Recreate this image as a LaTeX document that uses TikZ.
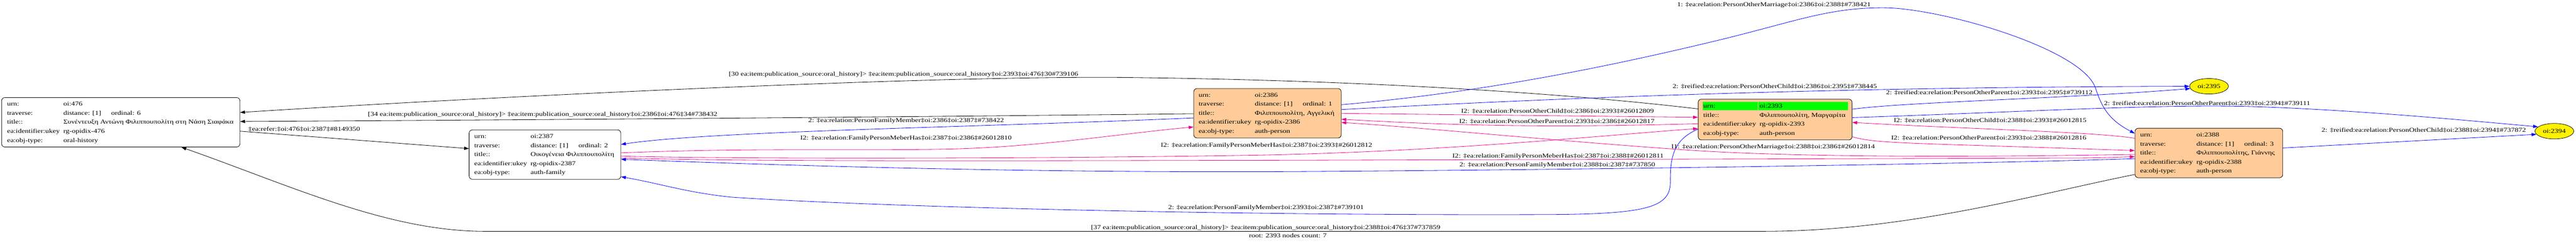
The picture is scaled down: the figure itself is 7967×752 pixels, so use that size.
\documentclass[tikz,border=0pt]{standalone}
\usepackage{fontspec}
\setmainfont{Liberation Serif}[FakeStretch=1.25]
\usetikzlibrary{arrows.meta,shapes.geometric,calc}
\definecolor{peachc}{RGB}{255,204,153}
\definecolor{greenc}{RGB}{0,255,0}
\newcommand{\rrow}[5]{\node[txt] (#1k) at (#2,#3+6) {#4};\node[txt] (#1v) at (#2+174,#3+6) {#5};}
\newcommand{\trow}[4]{\node[txt] (#1k) at (#2,#3+6) {traverse:};\node[txt] (#1v) at (#2+174,#3+6) {distance: [1]};\node[txt] (#1o) at (#2+322,#3+6) {ordinal: #4};}
\tikzset{
  rec/.style={draw=black, line width=1.3pt, rounded corners=10pt, inner sep=0pt},
  txt/.style={anchor=base west, inner sep=0pt, outer sep=0pt},
  lbl/.style={anchor=base west, inner sep=0pt, outer sep=0pt},
  edgeline/.style={line width=1.3pt, -{Triangle[length=15pt,width=10pt]}},
  bk/.style={edgeline, draw=black},
  bl/.style={edgeline, draw=blue},
  mg/.style={edgeline, draw=magenta},
  oval/.style={ellipse, draw=black, fill=yellow, line width=1.2pt, minimum width=120pt, minimum height=48pt, inner sep=0pt},
}
\begin{document}
\begin{tikzpicture}[x=1pt,y=-1pt,font=\fontsize{18.5}{22}\selectfont]
\path[use as bounding box, fill=white] (0,0) rectangle (7967,752);

% ---- record nodes ----
\node[rec, fill=white, minimum width=737pt, minimum height=153pt] (n476) at (373.5,378.5) {};
\rrow{a1}{22}{322}{urn:}{oi:476}
\trow{a2}{22}{350}{6}
\rrow{a3}{22}{378}{title::}{Συνέντευξη Αντώνη Φιλιππουπολίτη στη Νάση Σιαφάκα}
\rrow{a4}{22}{406}{ea:identifier:ukey}{rg-opidix-476}
\rrow{a5}{22}{434}{ea:obj-type:}{oral-history}

\node[rec, fill=white, minimum width=469pt, minimum height=153pt] (n2387) at (1685.5,478.5) {};
\rrow{b1}{1467}{422}{urn:}{oi:2387}
\trow{b2}{1467}{450}{2}
\rrow{b3}{1467}{478}{title::}{Οικογένεια Φιλιππουπολίτη}
\rrow{b4}{1467}{506}{ea:identifier:ukey}{rg-opidix-2387}
\rrow{b5}{1467}{534}{ea:obj-type:}{auth-family}

\node[rec, fill=peachc, minimum width=456pt, minimum height=153pt] (n2386) at (3920,350.5) {};
\rrow{c1}{3707}{294}{urn:}{oi:2386}
\trow{c2}{3707}{322}{1}
\rrow{c3}{3707}{350}{title::}{Φιλιππουπολίτη, Αγγελική}
\rrow{c4}{3707}{378}{ea:identifier:ukey}{rg-opidix-2386}
\rrow{c5}{3707}{406}{ea:obj-type:}{auth-person}

\node[rec, fill=peachc, minimum width=476pt, minimum height=126pt] (n2393) at (5490,370) {};
\fill[greenc] (5266,316) rectangle (5436,341);
\fill[greenc] (5438,316) rectangle (5716,341);
\rrow{d1}{5268}{328}{urn:}{oi:2393}
\rrow{d3}{5268}{356}{title::}{Φιλιππουπολίτη, Μαργαρίτα}
\rrow{d4}{5268}{384}{ea:identifier:ukey}{rg-opidix-2393}
\rrow{d5}{5268}{412}{ea:obj-type:}{auth-person}

\node[rec, fill=peachc, minimum width=457pt, minimum height=153pt] (n2388) at (6831.5,473.5) {};
\rrow{e1}{6619}{417}{urn:}{oi:2388}
\trow{e2}{6619}{445}{3}
\rrow{e3}{6619}{473}{title::}{Φιλιππουπολίτης, Γιάννης}
\rrow{e4}{6619}{501}{ea:identifier:ukey}{rg-opidix-2388}
\rrow{e5}{6619}{529}{ea:obj-type:}{auth-person}

\node[oval] (e2395) at (6832,267) {oi:2395};
\node[oval] (e2394) at (7900,406) {oi:2394};

% ---- black edges ----
\draw[bk] ($(n476.east)+(0,27.5)$) -- ($(n2387.west)+(0,-18.5)$);
\draw[bk] ($(n2393.west)+(0,-33)$) .. controls (4900,295) and (4300,250) .. (3500,240) .. controls (2900,232) and (1500,300) .. ($(n476.east)+(0,-30.5)$);
\draw[bk] ($(n2386.west)+(0,1.5)$) .. controls (2800,362) and (1800,370) .. ($(n476.east)+(0,-2.5)$);
\draw[bk] ($(n2388.west)+(0,66.5)$) .. controls (6300,600) and (5900,716) .. (5450,716) -- (1500,716) .. controls (1200,716) and (900,575) .. ($(n476.south)+(187.5,0)$);

% ---- blue edges ----
\draw[bl] ($(n2386.west)+(0,14.5)$) .. controls (3000,395) and (2200,405) .. ($(n2387.east)+(0,-31.5)$);
\draw[bl] ($(n2388.west)+(0,17.5)$) .. controls (6200,505) and (5000,525) .. (4000,531) .. controls (3200,535) and (2500,515) .. ($(n2387.east)+(0,14.5)$);
\draw[bl] ($(n2393.west)+(0,30)$) .. controls (5180,430) and (5165,480) .. (5166,560) .. controls (5168,640) and (5100,662) .. (4800,664) .. controls (3800,668) and (2700,640) .. (2260,610) .. controls (2120,595) and (2050,570) .. ($(n2387.east)+(0,68.5)$);
\draw[bl] ($(n2386.east)+(0,-26.5)$) .. controls (4600,285) and (5000,200) .. (5300,128) .. controls (5550,68) and (5650,24) .. (5824,24) .. controls (6000,24) and (6440,150) .. (6481,273) .. controls (6500,330) and (6520,370) .. ($(n2388.west)+(0,-60.5)$);
\draw[bl] ($(n2386.east)+(0,-11.5)$) .. controls (4800,305) and (5600,270) .. (e2395.west);
\draw[bl] ($(n2393.east)+(0,-32)$) .. controls (5900,315) and (6400,305) .. (e2395.187);
\draw[bl] ($(n2393.east)+(0,-6)$) .. controls (6300,345) and (6700,320) .. (7000,331) .. controls (7300,342) and (7600,370) .. (e2394.165);
\draw[bl] ($(n2388.east)+(0,-15.5)$) -- (e2394.190);

% ---- magenta edges ----
\draw[mg] ($(n2387.east)+(0,-5.5)$) .. controls (2300,458) and (2600,466) .. (2900,462) .. controls (3200,458) and (3450,415) .. ($(n2386.west)+(0,42.5)$);
\draw[mg] ($(n2387.east)+(0,4.5)$) .. controls (2200,492) and (3200,492) .. (3900,480) .. controls (4500,468) and (5000,415) .. ($(n2393.west)+(0,28)$);
\draw[mg] ($(n2387.east)+(0,10.5)$) .. controls (2300,500) and (3000,498) .. (4000,496) -- (6450,489) .. controls (6520,488) and (6560,486) .. ($(n2388.west)+(0,11.5)$);
\draw[mg] ($(n2388.west)+(0,4.5)$) .. controls (6000,488) and (5500,485) .. (5200,463) .. controls (4800,435) and (4400,395) .. ($(n2386.east)+(0,28.5)$);
\draw[mg] ($(n2386.east)+(0,0.5)$) -- ($(n2393.west)+(0,-7)$);
\draw[mg] ($(n2393.west)+(0,13)$) .. controls (4900,392) and (4600,395) .. ($(n2386.east)+(0,18.5)$);
\draw[mg] ($(n2388.west)+(0,-45.5)$) .. controls (6480,408) and (6100,400) .. ($(n2393.east)+(0,9)$);
\draw[mg] ($(n2393.east)+(0,53)$) .. controls (5800,445) and (5900,442) .. ($(n2388.west)+(0,-7.5)$);

% ---- edge labels ----
\node[lbl] (l01) at (768,406) {‡ea:refer:‡oi:476‡oi:2387‡\#8149350};
\node[lbl] (l02) at (2254,235) {[30 ea:item:publication\_source:oral\_history]> ‡ea:item:publication\_source:oral\_history‡oi:2393‡oi:476‡30\#739106};
\node[lbl] (l03) at (1138,359) {[34 ea:item:publication\_source:oral\_history]> ‡ea:item:publication\_source:oral\_history‡oi:2386‡oi:476‡34\#738432};
\node[lbl] (l04) at (3374,710) {[37 ea:item:publication\_source:oral\_history]> ‡ea:item:publication\_source:oral\_history‡oi:2388‡oi:476‡37\#737859};
\node[lbl] (l05) at (2500,378) {2: ‡ea:relation:PersonFamilyMember‡oi:2386‡oi:2387‡\#738422};
\node[lbl] (l06) at (2475,433) {I2: ‡ea:relation:FamilyPersonMeberHas‡oi:2387‡oi:2386‡\#26012810};
\node[lbl] (l07) at (3590,455) {I2: ‡ea:relation:FamilyPersonMeberHas‡oi:2387‡oi:2393‡\#26012812};
\node[lbl] (l08) at (4492,489) {I2: ‡ea:relation:FamilyPersonMeberHas‡oi:2387‡oi:2388‡\#26012811};
\node[lbl] (l09) at (4514,515) {2: ‡ea:relation:PersonFamilyMember‡oi:2388‡oi:2387‡\#737850};
\node[lbl] (l10) at (3613,647) {2: ‡ea:relation:PersonFamilyMember‡oi:2393‡oi:2387‡\#739101};
\node[lbl] (l11) at (5169,459) {I1: ‡ea:relation:PersonOtherMarriage‡oi:2388‡oi:2386‡\#26012814};
\node[lbl] (l12) at (4519,349) {I2: ‡ea:relation:PersonOtherChild‡oi:2386‡oi:2393‡\#26012809};
\node[lbl] (l13) at (4513,382) {I2: ‡ea:relation:PersonOtherParent‡oi:2393‡oi:2386‡\#26012817};
\node[lbl] (l14) at (5187,20) {1: ‡ea:relation:PersonOtherMarriage‡oi:2386‡oi:2388‡\#738421};
\node[lbl] (l15) at (5173,274) {2: ‡reified:ea:relation:PersonOtherChild‡oi:2386‡oi:2395‡\#738445};
\node[lbl] (l16) at (5833,292) {2: ‡reified:ea:relation:PersonOtherParent‡oi:2393‡oi:2395‡\#739112};
\node[lbl] (l17) at (6507,326) {2: ‡reified:ea:relation:PersonOtherParent‡oi:2393‡oi:2394‡\#739111};
\node[lbl] (l18) at (7180,408) {2: ‡reified:ea:relation:PersonOtherChild‡oi:2388‡oi:2394‡\#737872};
\node[lbl] (l19) at (5857,379) {I2: ‡ea:relation:PersonOtherChild‡oi:2388‡oi:2393‡\#26012815};
\node[lbl] (l20) at (5849,433) {I2: ‡ea:relation:PersonOtherParent‡oi:2393‡oi:2388‡\#26012816};

\node[anchor=base, inner sep=0pt] (root) at (3983,736) {root: 2393 nodes count: 7};
\end{tikzpicture}
\end{document}
